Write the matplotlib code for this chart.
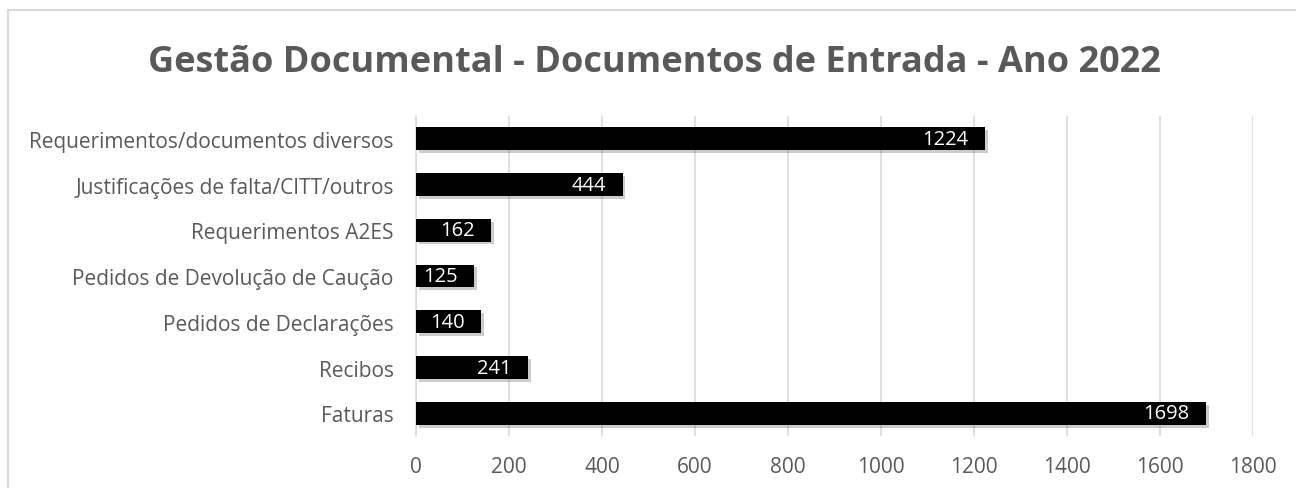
import matplotlib.pyplot as plt
import matplotlib.patheffects as pe
from matplotlib.patches import Rectangle

# Chart data (top to bottom as in the reference)
categories = [
    "Requerimentos/documentos diversos",
    "Justificações de falta/CITT/outros",
    "Requerimentos A2ES",
    "Pedidos de Devolução de Caução",
    "Pedidos de Declarações",
    "Recibos",
    "Faturas",
]
values = [1224, 444, 162, 125, 140, 241, 1698]
x_ticks = [0, 200, 400, 600, 800, 1000, 1200, 1400, 1600, 1800]

TEXT_GREY = "#595959"
GRID_GREY = "#d9d9d9"

plt.rcParams["font.family"] = ["Open Sans", "DejaVu Sans"]

fig = plt.figure(figsize=(12.96, 4.89), dpi=100)
ax = fig.add_axes([0.321, 0.106, 0.646, 0.655])

# outer chart border (only left/top visible in the reference)
fig.patches.append(
    Rectangle((8 / 1296, -0.1), 1.2, 1 - 11 / 489 + 0.1,
              transform=fig.transFigure, fill=False,
              edgecolor=GRID_GREY, linewidth=1.5)
)

ypos = list(range(len(categories)))[::-1]
bars = ax.barh(ypos, values, height=0.5, color="black", zorder=3)
for b in bars:
    b.set_path_effects([
        pe.SimplePatchShadow(offset=(2, -2), shadow_rgbFace="black", alpha=0.2),
        pe.Normal(),
    ])

for y, v in zip(ypos, values):
    ax.text(v - 36, y, str(v), ha="right", va="center",
            color="white", fontsize=14.5, zorder=4)

ax.set_xlim(0, 1800)
ax.set_ylim(-0.5, len(categories) - 0.5)
ax.set_xticks(x_ticks)
ax.set_yticks(ypos)
ax.set_yticklabels(categories)
ax.tick_params(axis="both", length=0, labelsize=15, colors=TEXT_GREY)
ax.tick_params(axis="y", pad=16)
ax.tick_params(axis="x", pad=14)

ax.grid(axis="x", color=GRID_GREY, linewidth=1.2, zorder=0)
for side in ["top", "right", "bottom"]:
    ax.spines[side].set_visible(False)
ax.spines["left"].set_color(GRID_GREY)
ax.spines["left"].set_linewidth(1.2)

fig.text(0.505, 0.872, "Gestão Documental - Documentos de Entrada - Ano 2022",
         ha="center", va="center", fontsize=26, fontweight="bold", color=TEXT_GREY)

fig.savefig("out.png", dpi=100, facecolor="white")
